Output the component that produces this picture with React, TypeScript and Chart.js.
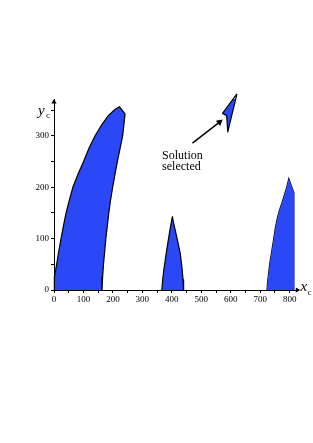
import React, { useEffect, useRef } from 'react';
import { Chart, registerables } from 'chart.js';
Chart.register(...registerables);

// Region A (left tall arc): left boundary upward, then right boundary downward
const regionAX = [0, 0.5, 2, 5, 9, 16, 24, 32, 41, 52, 64, 81, 100, 118, 139, 160, 185, 208, 222, 241, 237, 233, 224, 215, 207, 199, 192, 186, 181, 176, 172, 168, 165, 163];
const regionAY = [0, 12, 25, 37, 50, 75, 100, 125, 150, 175, 200, 225, 250, 275, 300, 320, 340, 352, 357, 343, 320, 300, 275, 250, 225, 200, 175, 150, 125, 100, 75, 50, 25, 0];
// Region B (middle spike)
const regionBX = [366, 369, 373, 377, 381, 386, 391, 396, 402, 406, 411, 416, 421, 425, 429, 432, 435, 438, 440];
const regionBY = [0, 20, 40, 56, 72, 90, 108, 125, 143, 130, 118, 105, 92, 81, 70, 55, 40, 20, 0];
// Region C (right arc)
const regionCX = [723, 725, 728, 732, 738, 746, 751, 757, 765, 774, 782, 790, 797, 815, 815];
const regionCY = [0, 15, 30, 50, 72, 100, 120, 137, 155, 170, 185, 200, 217, 188, 0];
// Selected solution (small arrow-shaped region)
const selectedX = [621, 572, 586, 590, 621];
const selectedY = [382, 344, 340, 308, 382];
// Annotation arrow
const arrowX = [470, 562];
const arrowY = [286, 327];
const noteLines = ['Solution', 'selected'];
const noteX = 367;
const noteY = [255, 234];

const xTicks = [0, 50, 100, 150, 200, 250, 300, 350, 400, 450, 500, 550, 600, 650, 700, 750, 800];
const yTicks = [0, 50, 100, 150, 200, 250, 300, 350];
const xMax = 830;
const yMax = 372;

const BLUE = 'rgb(42,72,245)';

const zip = (xs: number[], ys: number[]) => xs.map((x, i) => ({ x, y: ys[i] }));

const textPlugin = {
  id: 'texts',
  afterDatasetsDraw(chart: any) {
    const { ctx, scales, chartArea } = chart;
    const xs = scales.x;
    const ys = scales.y;
    ctx.save();
    ctx.fillStyle = '#000';
    ctx.textAlign = 'left';
    ctx.textBaseline = 'alphabetic';
    ctx.font = '12px "Liberation Serif"';
    noteLines.forEach((t, i) => {
      ctx.fillText(t, xs.getPixelForValue(noteX), ys.getPixelForValue(noteY[i]));
    });
    ctx.font = 'italic 15px "Liberation Serif"';
    ctx.fillText('y', chartArea.left - 16, chartArea.top + 16);
    ctx.fillText('x', chartArea.right + 2, chartArea.bottom + 1);
    ctx.font = '9px "Liberation Serif"';
    ctx.fillText('c', chartArea.left - 8, chartArea.top + 19);
    ctx.fillText('c', chartArea.right + 9, chartArea.bottom + 5);
    ctx.restore();
  },
};

export default function App() {
  const ref = useRef<HTMLCanvasElement>(null);
  useEffect(() => {
    if (!ref.current) return;
    const shape = (xs: number[], ys: number[], extra: any = {}) => ({
      data: zip(xs, ys),
      borderColor: '#000',
      borderWidth: 1.2,
      backgroundColor: BLUE,
      fill: 'shape',
      pointRadius: 0,
      tension: 0,
      borderJoinStyle: 'round',
      ...extra,
    });
    const outline = (xs: number[], ys: number[], color: string, width: number) => ({
      data: zip(xs, ys),
      borderColor: color,
      borderWidth: width,
      fill: false,
      pointRadius: 0,
      tension: 0,
    });
    const n = regionCX.length;
    const chart = new Chart(ref.current, {
      type: 'line',
      data: {
        datasets: [
          shape(regionAX, regionAY),
          shape(regionBX, regionBY),
          shape(regionCX, regionCY, { borderWidth: 0, borderColor: 'rgba(0,0,0,0)' }),
          outline(regionCX.slice(0, n - 1), regionCY.slice(0, n - 1), '#000', 1.2),
          outline(regionCX.slice(n - 2), regionCY.slice(n - 2), 'rgba(120,120,150,0.9)', 1),
          shape(selectedX, selectedY),
          {
            data: zip(arrowX, arrowY),
            borderColor: '#000',
            borderWidth: 1.5,
            backgroundColor: '#000',
            fill: false,
            pointRadius: [0, 4],
            pointStyle: 'triangle',
            rotation: 51,
            pointBorderWidth: 0,
          },
          {
            data: [{ x: xMax - 4, y: 0 }],
            showLine: false,
            pointStyle: 'triangle',
            rotation: 90,
            pointRadius: 3,
            backgroundColor: '#000',
            borderColor: '#000',
            pointBorderWidth: 0,
            fill: false,
          },
          {
            data: [{ x: 0, y: yMax - 6 }],
            showLine: false,
            pointStyle: 'triangle',
            rotation: 0,
            pointRadius: 3,
            backgroundColor: '#000',
            borderColor: '#000',
            pointBorderWidth: 0,
            fill: false,
          },
        ],
      },
      options: {
        animation: false,
        responsive: false,
        maintainAspectRatio: false,
        clip: false,
        layout: { padding: { left: 22, right: 14.5, top: 99, bottom: 133 } },
        plugins: { legend: { display: false }, tooltip: { enabled: false }, title: { display: false } },
        scales: {
          x: {
            type: 'linear',
            min: 0,
            max: xMax,
            afterBuildTicks: (s: any) => { s.ticks = xTicks.map((v) => ({ value: v })); },
            afterFit: (s: any) => { s.height = 20; },
            border: { display: true, color: '#000', width: 1 },
            grid: { drawOnChartArea: false, drawTicks: true, tickLength: 3, color: '#000' },
            ticks: {
              color: '#000',
              font: { family: '"Liberation Serif"', size: 9 },
              padding: 1,
              maxRotation: 0,
              autoSkip: false,
              callback: (v: any) => (Number(v) % 100 === 0 ? String(v) : ''),
            },
          },
          y: {
            type: 'linear',
            min: 0,
            max: yMax,
            afterBuildTicks: (s: any) => { s.ticks = yTicks.map((v) => ({ value: v })); },
            afterFit: (s: any) => { s.width = 32; },
            border: { display: true, color: '#000', width: 1 },
            grid: { drawOnChartArea: false, drawTicks: true, tickLength: 3, color: '#000' },
            ticks: {
              color: '#000',
              font: { family: '"Liberation Serif"', size: 9 },
              padding: 2,
              autoSkip: false,
              callback: (v: any) => (Number(v) % 100 === 0 ? String(v) : ''),
            },
          },
        },
      },
      plugins: [textPlugin],
    } as any);
    return () => chart.destroy();
  }, []);
  return (
    <div style={{ position: 'absolute', left: 0, top: 0, width: 313, height: 443, background: '#fff' }}>
      <canvas ref={ref} width={313} height={443} style={{ width: 313, height: 443, display: 'block' }} />
    </div>
  );
}
